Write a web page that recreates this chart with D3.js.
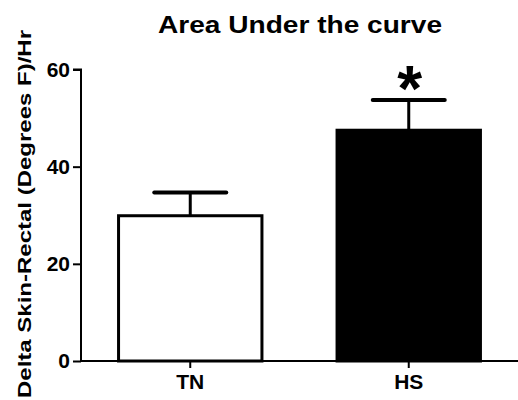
<!DOCTYPE html>
<html>
<head>
<meta charset="utf-8">
<script src="https://cdn.jsdelivr.net/npm/d3@7"></script>
<style>
  body { margin: 0; background: #fff; }
  svg text { font-family: "Liberation Sans", Arial, sans-serif; font-weight: bold; fill: #000; }
</style>
</head>
<body>
<div id="wrapper"></div>
<script>
// chart data
const groups = ['TN', 'HS'];
const means = [29.9, 47.5];
const sems = [4.8, 6.2];
const yTicks = [0, 20, 40, 60];
const fills = ['#fff', '#000'];
const marks = ['', '*'];

const width = 518;
const height = 400;

const svg = d3.select('#wrapper')
              .append('svg')
              .attr('width', width)
              .attr('height', height);

const y = d3.scaleLinear().domain([0, 60]).range([361, 69.5]);
const x = d3.scaleBand()
            .domain(groups)
            .range([81, 518])
            .paddingInner(0.33)
            .paddingOuter(0.165);

// title
svg.append('text')
   .attr('x', 300)
   .attr('y', 33)
   .attr('text-anchor', 'middle')
   .attr('font-size', '23px')
   .attr('textLength', 284)
   .attr('lengthAdjust', 'spacingAndGlyphs')
   .text('Area Under the curve');

// y axis label
svg.append('text')
   .attr('transform', 'translate(31,214) rotate(-90)')
   .attr('text-anchor', 'middle')
   .attr('font-size', '18px')
   .attr('textLength', 368)
   .attr('lengthAdjust', 'spacingAndGlyphs')
   .text('Delta Skin-Rectal (Degrees F)/Hr');

// bars
let bar = svg.selectAll('.bar')
             .data(groups)
             .enter().append('g')
             .attr('class', 'bar');

bar.append('rect')
   .attr('x', d => x(d) + 1.5)
   .attr('y', (d, i) => y(means[i]))
   .attr('width', x.bandwidth() - 3)
   .attr('height', (d, i) => y(0) - y(means[i]))
   .style('fill', (d, i) => fills[i])
   .style('stroke', '#000')
   .style('stroke-width', 3);

// error bars
bar.append('line')
   .attr('x1', d => x(d) + x.bandwidth() / 2)
   .attr('x2', d => x(d) + x.bandwidth() / 2)
   .attr('y1', (d, i) => y(means[i]))
   .attr('y2', (d, i) => y(means[i] + sems[i]))
   .style('stroke', '#000')
   .style('stroke-width', 3);

bar.append('line')
   .attr('x1', d => x(d) + x.bandwidth() / 2 - 36)
   .attr('x2', d => x(d) + x.bandwidth() / 2 + 36)
   .attr('y1', (d, i) => y(means[i] + sems[i]))
   .attr('y2', (d, i) => y(means[i] + sems[i]))
   .style('stroke', '#000')
   .style('stroke-width', 4)
   .style('stroke-linecap', 'round');

// significance mark
bar.append('text')
   .attr('x', d => x(d) + x.bandwidth() / 2 + 1)
   .attr('y', (d, i) => y(means[i] + sems[i]) + 11)
   .attr('text-anchor', 'middle')
   .attr('font-size', '64px')
   .text((d, i) => marks[i]);

// axes
const yAxis = svg.append('g')
                 .attr('transform', 'translate(81,0)')
                 .call(d3.axisLeft(y).tickValues(yTicks).tickSize(8).tickPadding(3));
const xAxis = svg.append('g')
                 .attr('transform', 'translate(0,361)')
                 .call(d3.axisBottom(x).tickSize(7).tickPadding(6));

[yAxis, xAxis].forEach(a => {
  a.select('.domain').style('stroke', '#000').style('stroke-width', 2);
  a.selectAll('.tick line').style('stroke', '#000').style('stroke-width', 2);
  a.selectAll('text').attr('fill', '#000').style('font-family', '"Liberation Sans", Arial, sans-serif').style('font-weight', 'bold');
});
yAxis.select('.domain').attr('d', 'M-8,' + y(60) + 'H0V' + y(0));
yAxis.selectAll('text').style('font-size', '21px');
xAxis.select('.domain').attr('d', 'M81,0H518');
xAxis.selectAll('text').style('font-size', '21px');
</script>
</body>
</html>
